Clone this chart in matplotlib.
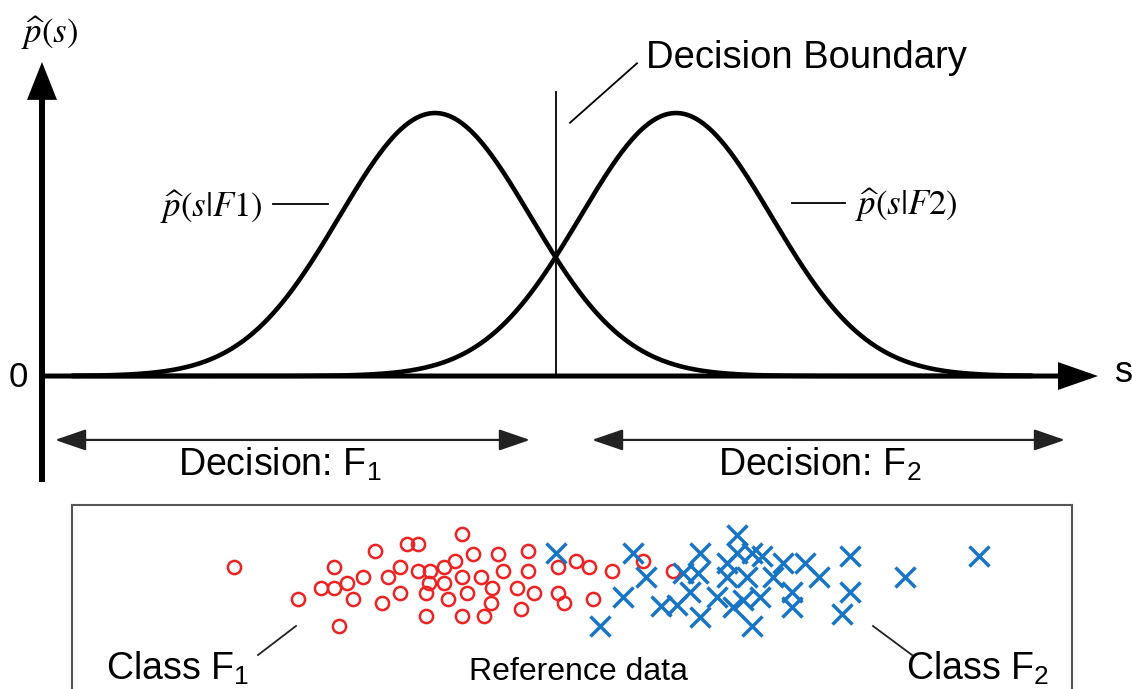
import numpy as np
import matplotlib.pyplot as plt

plt.rcParams['font.family'] = ['Liberation Sans', 'DejaVu Sans']
plt.rcParams['mathtext.fontset'] = 'stix'

# class-conditional densities (s units, peak normalised to 1)
mu1 = 3.93
mu2 = 6.34
sigma = 0.956
peak = 1.0
boundary = 5.14

# reference data: s value and vertical jitter row
red_s = [1.92, 2.92, 3.33, 3.65, 3.76, 4.20, 4.31, 4.56, 3.58, 3.76, 3.88, 4.02, 4.13,
         3.21, 3.46, 3.05, 2.79, 2.92, 3.87, 4.02, 4.20, 4.39, 4.50, 2.56, 3.11, 3.40,
         3.58, 3.84, 4.06, 4.25, 4.49, 3.84, 4.20, 4.42, 2.97, 4.86, 4.61, 4.86, 5.16,
         5.34, 5.47, 5.70, 6.01, 6.31, 4.75, 4.92, 5.16, 5.22, 5.51, 4.79]
red_y = [62, 62, 46, 39, 39, 29, 49, 49, 62, 66, 66, 62, 56,
         72, 72, 78, 83, 83, 78, 78, 72, 72, 83, 94, 94, 98,
         88, 88, 94, 88, 98, 111, 111, 111, 121, 46, 66, 66, 62,
         56, 62, 66, 56, 66, 83, 88, 88, 98, 94, 104]
blue_s = [5.14, 5.91, 6.04, 5.81, 5.58, 6.19, 6.35, 6.41, 6.56, 6.58, 6.48, 6.58,
          6.75, 6.85, 6.95, 6.95, 6.85, 6.91, 7.10, 7.20, 7.05, 7.18, 7.10, 7.31,
          7.41, 7.63, 7.77, 7.50, 7.50, 7.01, 8.08, 8.08, 8.00, 8.63, 9.37]
blue_y = [48, 48, 72, 92, 121, 101, 100, 68, 68, 48, 87, 112,
          92, 72, 30, 48, 58, 102, 48, 51, 72, 92, 121, 72,
          58, 58, 72, 87, 102, 95, 51, 87, 109, 72, 51]

fig = plt.figure(figsize=(11.32, 6.89), dpi=100)
ax = fig.add_axes([0, 0, 1, 1])
ax.set_xlim(-0.42, 10.90)
ax.set_ylim(-1.190, 1.4297)
ax.axis('off')

s = np.linspace(0.3, 9.9, 600)
p1 = peak * np.exp(-(s - mu1) ** 2 / (2 * sigma ** 2))
p2 = peak * np.exp(-(s - mu2) ** 2 / (2 * sigma ** 2))
ax.plot(s, p1, color='k', lw=3.3, solid_capstyle='round')
ax.plot(s, p2, color='k', lw=3.3, solid_capstyle='round')

# axes arrows
ax.arrow(0, -0.403, 0, 1.597, width=0.06, head_width=0.30, head_length=0.144,
         length_includes_head=True, color='k', lw=0)
ax.arrow(0, 0, 10.56, 0, width=0.019, head_width=0.106, head_length=0.40,
         length_includes_head=True, color='k', lw=0)

ax.text(0.08, 1.304, r'$\widehat{p}(s)$', fontsize=25, ha='center', va='center')
ax.text(-0.24, -0.004, '0', fontsize=25, ha='center', va='center')
ax.text(10.82, 0.015, 's', fontsize=26, ha='center', va='center')

# decision boundary
ax.plot([boundary, boundary], [0, 1.080], color='k', lw=1.3)
ax.plot([5.28, 5.95], [0.963, 1.189], color='k', lw=1.3)
ax.text(6.04, 1.209, 'Decision Boundary', fontsize=27.5, ha='left', va='center')

ax.text(2.21, 0.643, r'$\widehat{p}(s|F\mathrm{1})$', fontsize=25, ha='right', va='center')
ax.plot([2.31, 2.86], [0.654, 0.654], color='k', lw=1.3)
ax.text(8.13, 0.650, r'$\widehat{p}(s|F\mathrm{2})$', fontsize=25, ha='left', va='center')
ax.plot([7.50, 8.03], [0.658, 0.658], color='k', lw=1.3)

# decision regions
arr = dict(arrowstyle='<|-|>,head_length=1.6,head_width=0.55', mutation_scale=12,
           lw=1.6, color='#222222', shrinkA=0, shrinkB=0)
ax.annotate('', xy=(4.88, -0.243), xytext=(0.13, -0.243), arrowprops=arr)
ax.annotate('', xy=(10.23, -0.243), xytext=(5.50, -0.243), arrowprops=arr)
ax.text(2.38, -0.338, r'Decision: F$_{\mathregular{1}}$', fontsize=27, ha='center', va='center')
ax.text(7.78, -0.338, r'Decision: F$_{\mathregular{2}}$', fontsize=27, ha='center', va='center')

# reference data box
bx = fig.add_axes([72 / 1132, 0, 1000 / 1132, 184 / 689])
bx.set_xlim(0.30, 10.30)
bx.set_ylim(184, 0)
bx.set_xticks([])
bx.set_yticks([])
bx.spines['bottom'].set_visible(False)
for k in ['top', 'left', 'right']:
    bx.spines[k].set_color('#555555')
    bx.spines[k].set_linewidth(1.5)

bx.plot(red_s, red_y, 'o', ms=9.5, mfc='none', mec='#ee2222', mew=1.8, ls='none')
bx.plot(blue_s, blue_y, 'x', ms=15, mec='#1874c4', mew=2.5, ls='none')

bx.plot([2.54, 2.16], [121, 150], color='#222222', lw=1.3)
bx.plot([8.31, 8.70], [121, 150], color='#222222', lw=1.3)
bx.text(1.36, 164, r'Class F$_{\mathregular{1}}$', fontsize=27, ha='center', va='center')
bx.text(5.36, 167, 'Reference data', fontsize=23, ha='center', va='center')
bx.text(9.36, 164, r'Class F$_{\mathregular{2}}$', fontsize=27, ha='center', va='center')

fig.savefig('out.png', dpi=100)
